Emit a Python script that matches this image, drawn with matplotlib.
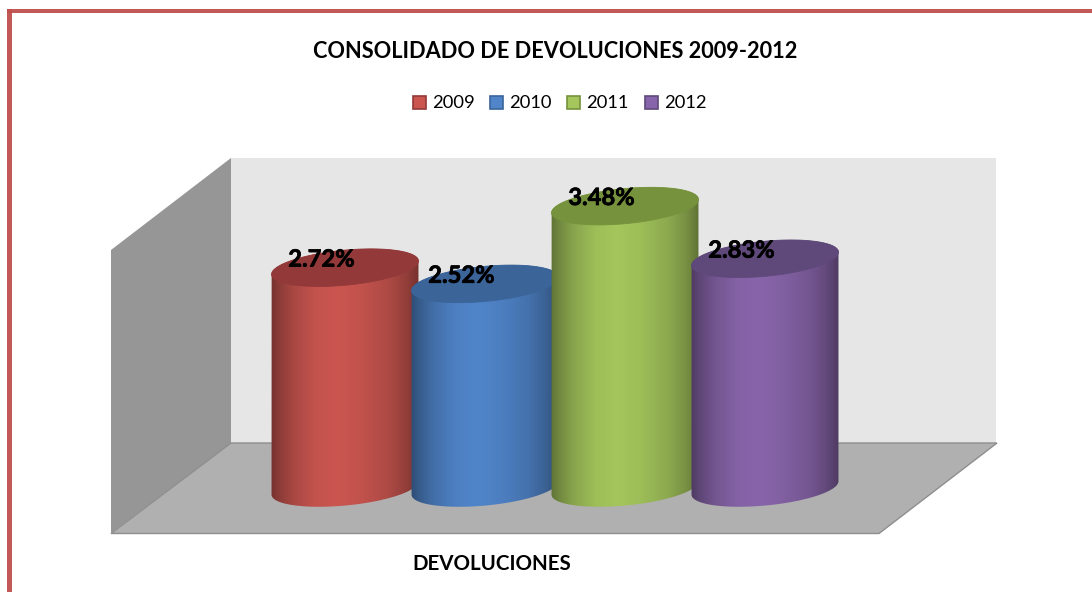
import numpy as np
import matplotlib
matplotlib.use("Agg")
import matplotlib.pyplot as plt
import matplotlib.patheffects as pe
from matplotlib.path import Path
from matplotlib.patches import PathPatch, Polygon, Rectangle

# Return rates by year
years = ["2009", "2010", "2011", "2012"]
values = [2.72, 2.52, 3.48, 2.83]
value_labels = ["2.72%", "2.52%", "3.48%", "2.83%"]
series_category = "DEVOLUCIONES"
title = "CONSOLIDADO DE DEVOLUCIONES 2009-2012"

body_colors = ["#CB5650", "#5085CA", "#A4C65C", "#8865AA"]
top_colors = ["#93393A", "#3B6499", "#76923C", "#5F497A"]

W, H = 1092, 592
plt.rcParams["font.family"] = ["Lato", "DejaVu Sans"]

fig = plt.figure(figsize=(W / 100, H / 100), dpi=100, facecolor="white")

# Scene layer measured in canvas pixels
scene = fig.add_axes([0, 0, 1, 1])
scene.set_xlim(0, W)
scene.set_ylim(H, 0)
scene.axis("off")

# Frame around the chart area
border = "#C0504D"
scene.add_patch(Rectangle((7, 9), W, 3.5, fc=border, ec="none", alpha=0.95))
scene.add_patch(Rectangle((7, 9), 5, H, fc=border, ec="none", alpha=0.95))

# Walls and floor of the 3-D box
scene.add_patch(Polygon([(231, 158), (996, 158), (996, 443), (231, 443)], fc="#E6E6E6", ec="none"))
scene.add_patch(Polygon([(111, 250), (231, 158), (231, 443), (111, 533)], fc="#969696", ec="none"))
scene.add_patch(Polygon([(231, 443), (997, 443), (879, 533.5), (111, 533.5)],
                        fc="#B0B0B0", ec="#8E8E8E", lw=1.0))

# Value layer: x is the category index, y the percentage
px_x, px_y = 140.0, 81.0     # pixels per category, pixels per percentage point
x0_px, y0_px = 345.0, 488.0  # where category 0, value 0 lands on the canvas
bars = fig.add_axes([0, 0, 1, 1])
bars.patch.set_alpha(0)
bars.axis("off")
bars.set_xlim(-x0_px / px_x, (W - x0_px) / px_x)
bars.set_ylim(-(H - y0_px) / px_y, y0_px / px_y)

major_px = 73.8


def ellipse_points(cx, cy, t):
    """Tilted ellipse outline in value coordinates; t is the angle list."""
    b, tilt = 17.5, np.deg2rad(5.5)
    ex = major_px * np.cos(t)
    ey = b * np.sin(t)
    dx = ex * np.cos(tilt) - ey * np.sin(tilt)
    dy = ex * np.sin(tilt) + ey * np.cos(tilt)
    return np.column_stack([cx + dx / px_x, cy + dy / px_y])


def shade(hex_color, profile):
    rgb = np.array(matplotlib.colors.to_rgb(hex_color))
    return np.clip(profile[:, None] * rgb[None, :], 0, 1)


stops_x = [0.0, 0.05, 0.15, 0.30, 0.45, 0.62, 0.80, 0.92, 1.0]
stops_v = [0.58, 0.68, 0.83, 0.96, 1.0, 0.95, 0.85, 0.72, 0.58]
grad = np.interp(np.linspace(0, 1, 256), stops_x, stops_v)
half_w = major_px / px_x

for i, (v, body, top, lab) in enumerate(zip(values, body_colors, top_colors, value_labels)):
    z = 3 + i
    # Side of the cylinder: lower half of the base, then across the upper edge of the cap
    lower = ellipse_points(i, 0, np.linspace(0, -np.pi, 80))
    upper = ellipse_points(i, v, np.linspace(np.pi, 0, 80))
    outline = np.vstack([lower, upper, lower[:1]])
    clip = PathPatch(Path(outline), transform=bars.transData, fc="none", ec="none")
    bars.add_patch(clip)
    img = bars.imshow(shade(body, grad)[None, :, :], aspect="auto", zorder=z,
                      extent=[i - half_w, i + half_w, -0.5, v + 0.5], interpolation="bilinear")
    img.set_clip_path(clip)
    # Top face
    cap = ellipse_points(i, v, np.linspace(0, 2 * np.pi, 160))
    bars.add_patch(Polygon(cap, closed=True, fc=top, ec=top, lw=0.6, zorder=z + 0.1))
    # Data label sits up and to the left of the cap centre
    bars.annotate(lab, xy=(i, v), xytext=(-17, 6.2), textcoords="offset points",
                  ha="center", va="center", fontsize=17.1, fontweight="bold", color="black",
                  zorder=20, path_effects=[pe.withStroke(linewidth=0.5, foreground="black")])

bars.set_xlim(-x0_px / px_x, (W - x0_px) / px_x)
bars.set_ylim(-(H - y0_px) / px_y, y0_px / px_y)

# Title, legend and category label
overlay = fig.add_axes([0, 0, 1, 1])
overlay.patch.set_alpha(0)
overlay.axis("off")
overlay.set_xlim(0, W)
overlay.set_ylim(H, 0)
overlay.text(555.5, 51, title, ha="center", va="center", fontsize=15.7, fontweight="bold", color="black")
overlay.text(491.5, 564.5, series_category, ha="center", va="center", fontsize=14.8, fontweight="bold", color="black")

legend_x = [413, 490, 567, 645]
for x, year, body, top in zip(legend_x, years, body_colors, top_colors):
    overlay.add_patch(Rectangle((x, 96), 13, 12.5, fc=body, ec=top, lw=1.2))
    overlay.text(x + 19, 102.5, year, ha="left", va="center", fontsize=13.2, color="black")

fig.savefig("out.png", dpi=100, facecolor="white")
